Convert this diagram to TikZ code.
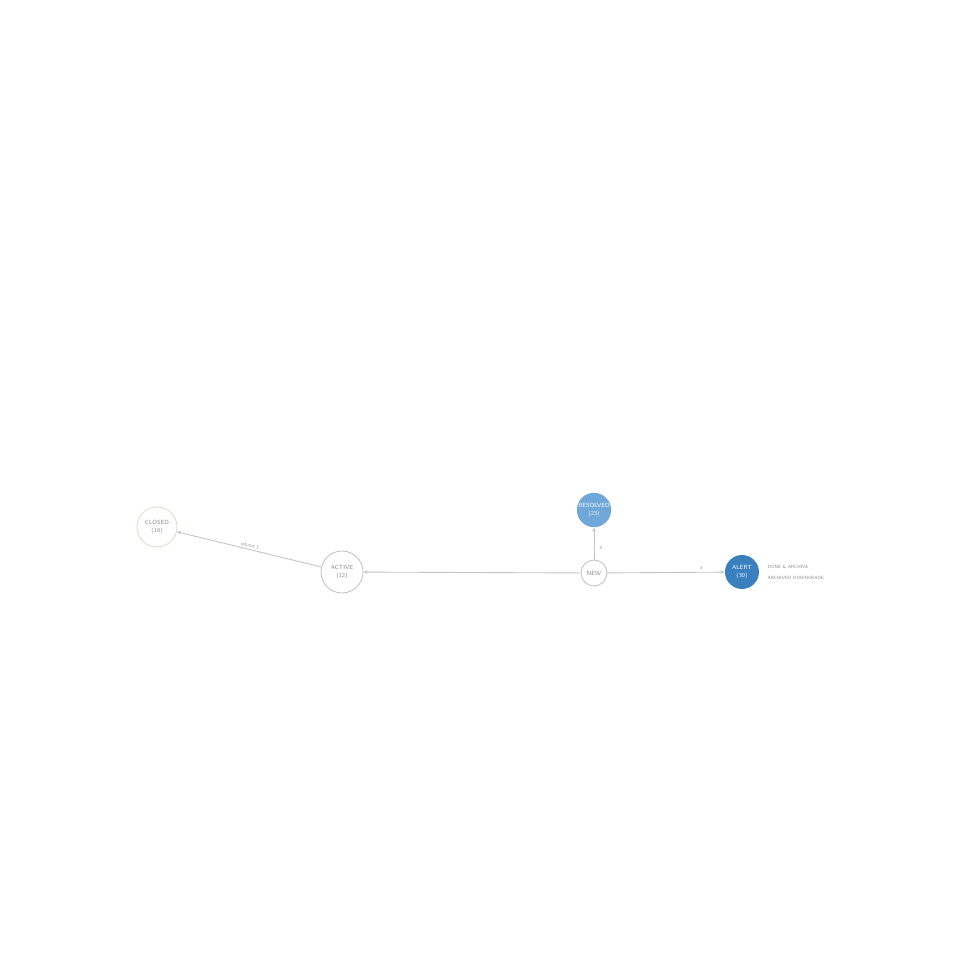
\documentclass[tikz,border=0pt]{standalone}
\usetikzlibrary{arrows.meta}
\definecolor{edgegray}{HTML}{C4C4C4}
\definecolor{textgray}{HTML}{8A8A8A}
\definecolor{lightblue}{HTML}{6FA8D8}
\definecolor{darkblue}{HTML}{3A80BE}
\definecolor{tanline}{HTML}{E6D9CD}

\newcommand{\StateFont}{\sffamily\fontsize{1.7}{2.3}\selectfont}
\newcommand{\LabelFont}{\sffamily\fontsize{1.3}{1.9}\selectfont}

\begin{document}
\begin{tikzpicture}[
        state/.style={circle, draw=edgegray, line width=0.25pt, fill=white, inner sep=0pt,
            align=center, text=textgray, font=\StateFont},
        oldstate/.style={state, draw=tanline},
        blue1/.style={state, draw=none, fill=lightblue, text=white},
        blue2/.style={state, draw=none, fill=darkblue, text=white},
        edge/.style={draw=edgegray, line width=0.25pt, -{Stealth[length=1.2pt, width=1pt]}},
        edgelabel/.style={font=\LabelFont, text=textgray, inner sep=0.5pt}
    ]
  % Page size
  \useasboundingbox (0,0) rectangle (9.6,9.6);
  \fill[white] (0,0) rectangle (9.6,9.6);

  %%% States
  \node[oldstate, minimum size=0.40cm] (closed)   at (1.57,4.33) {CLOSED\\(18)};
  \node[state,    minimum size=0.42cm] (active)   at (3.42,3.88) {ACTIVE\\(12)};
  \node[state,    minimum size=0.26cm] (new)      at (5.94,3.87) {NEW};
  \node[blue1,    minimum size=0.34cm] (resolved) at (5.94,4.50) {RESOLVED\\(23)};
  \node[blue2,    minimum size=0.34cm] (alert)    at (7.42,3.88) {ALERT\\(30)};

  % Note beside the last state
  \node[edgelabel, anchor=west, align=left, xshift=1.6pt] (note) at (alert.east)
      {DONE \& ARCHIVE\\[1.2pt] ARCHIVED DOWNGRADE};

  %%% Transitions
  \draw[edge] (active) -- (closed) node [edgelabel, pos=0.5, above, sloped] {returns 1};
  \draw[edge] (new) -- (active);
  \draw[edge] (new) -- (resolved) node [edgelabel, pos=0.35, right, xshift=1pt] {4};
  \draw[edge] (new) -- (alert) node [edgelabel, pos=0.8, above] {3};
\end{tikzpicture}
\end{document}
